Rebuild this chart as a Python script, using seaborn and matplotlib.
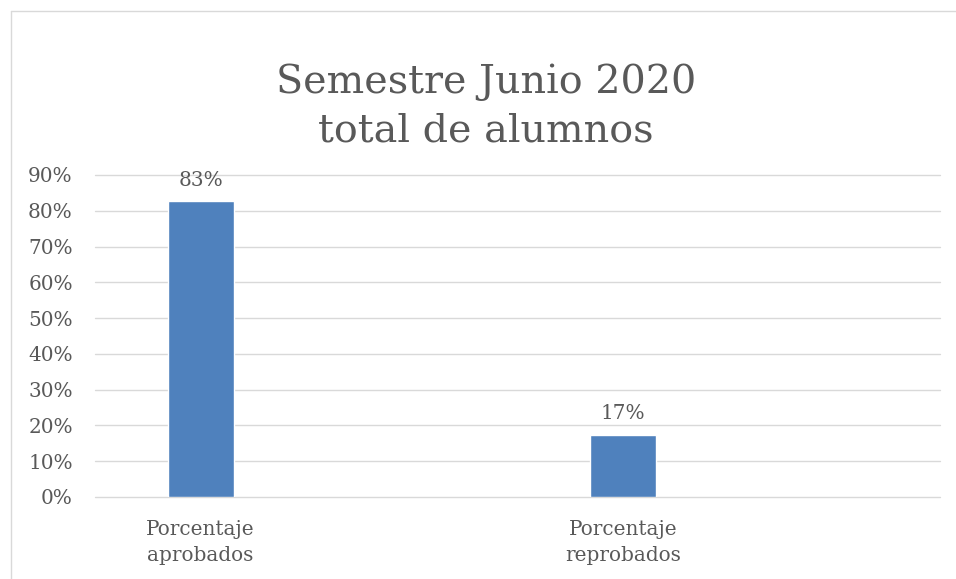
import matplotlib
matplotlib.use("Agg")
import matplotlib.pyplot as plt
from matplotlib.lines import Line2D
from matplotlib.ticker import MultipleLocator, PercentFormatter
import pandas as pd
import seaborn as sns

# chart data
categories = ["Porcentaje\naprobados", "Porcentaje\nreprobados"]
values = [0.826, 0.174]
value_labels = ["83%", "17%"]

title = "Semestre Junio 2020\ntotal de alumnos"

df = pd.DataFrame({"categoria": categories, "valor": values})

sns.set_style("white")
plt.rcParams["font.family"] = ["DejaVu Serif"]

text_grey = "#595959"
grid_grey = "#D9D9D9"
bar_blue = "#4F81BD"

fig = plt.figure(figsize=(9.56, 5.79), dpi=100)
ax = fig.add_axes([95 / 956, 1 - 497 / 579, (940 - 95) / 956, (497 - 175) / 579])

sns.barplot(data=df, x="categoria", y="valor", color=bar_blue, width=0.156,
            saturation=1, ax=ax)

ax.set_xlim(-0.25, 1.75)
ax.set_ylim(0, 0.9)
ax.yaxis.set_major_locator(MultipleLocator(0.1))
ax.yaxis.set_major_formatter(PercentFormatter(1.0, decimals=0))
ax.grid(axis="y", color=grid_grey, linewidth=1.0)
ax.set_axisbelow(True)
for gl in ax.get_ygridlines():
    gl.set_clip_on(False)
for s in ax.spines.values():
    s.set_visible(False)
ax.set_xlabel("")
ax.set_ylabel("")
ax.tick_params(axis="y", length=0, pad=16, labelsize=14.4, labelcolor=text_grey)
ax.tick_params(axis="x", length=0, pad=16.5, labelsize=14.4, labelcolor=text_grey)
for lbl in ax.get_xticklabels():
    lbl.set_linespacing(1.5)

# data labels
for i, (v, lab) in enumerate(zip(values, value_labels)):
    ax.annotate(lab, (i, v), xytext=(0, 11.5), textcoords="offset points",
                ha="center", va="baseline", fontsize=14.4, color=text_grey)

fig.text(0.5 + 8 / 956, 1 - 141 / 579, title, ha="center", va="baseline",
         fontsize=28.5, color=text_grey, linespacing=1.38)

# chart area border (left and top edges visible)
fig.add_artist(Line2D([10.5 / 956, 10.5 / 956], [0, 1 - 10.5 / 579],
                      transform=fig.transFigure, color=grid_grey, linewidth=1.0))
fig.add_artist(Line2D([10.5 / 956, 1], [1 - 10.5 / 579, 1 - 10.5 / 579],
                      transform=fig.transFigure, color=grid_grey, linewidth=1.0))

fig.savefig("out.png", dpi=100)
